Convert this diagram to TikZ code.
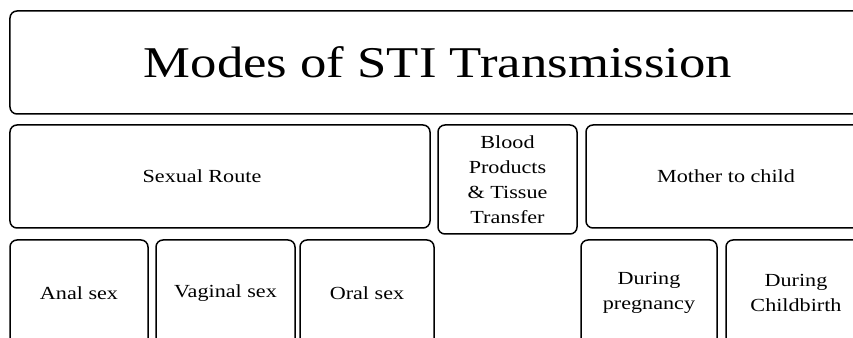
\documentclass[tikz,border=0pt]{standalone}
\usepackage{fontspec}
\setmainfont{Liberation Serif}[FakeStretch=1.2]
\usepackage{tikz}
\usetikzlibrary{shapes,calc}
\tikzstyle{tsText} = [ 
    text=black, 
    font=\fontsize{10.5}{14.2}\selectfont
]
\tikzstyle{tsBox} = [ 
    rectangle,
    rounded corners=0.14cm,
    tsText,
    text centered,
    align=center,
    draw=black,
    line width=0.3mm]
\tikzstyle{tsTitle} = [ 
    tsBox,
    font=\fontsize{25}{30}\selectfont]

\begin{document}
\begin{tikzpicture}

        \useasboundingbox (0,0) rectangle (17.06,6.76);
        \clip (0,0) rectangle (17.06,6.76);

        % top row
        \node[  tsTitle, 
                minimum width=17.12cm,
                minimum height=2.06cm] (modes) at (8.76,5.51) {Modes of STI Transmission};

        % middle row
        \node[  tsBox, 
                minimum width=8.40cm,
                minimum height=2.06cm,
                label={[tsText, name=sexualtext, xshift=-0.36cm]center:Sexual Route}] (sexual) at (4.40,3.23) {};
        \node[  tsBox, 
                minimum width=2.78cm,
                minimum height=2.18cm] (blood) at (10.15,3.17) {Blood\\Products\\\& Tissue\\Transfer};
        \node[  tsBox, 
                minimum width=5.60cm,
                minimum height=2.06cm] (mother) at (14.52,3.23) {Mother to child};

        % bottom row
        \node[tsBox, minimum width=2.76cm, minimum height=2.12cm] (anal) at (1.58,0.90) {Anal sex};
        \node[tsBox, minimum width=2.78cm, minimum height=2.12cm] (vaginal) at (4.51,0.90) {Vaginal sex};
        \node[tsBox, minimum width=2.68cm, minimum height=2.12cm] (oral) at (7.34,0.90) {Oral sex};
        \node[tsBox, minimum width=2.72cm, minimum height=2.12cm] (pregnancy) at (12.98,0.90) {During\\pregnancy};
        \node[tsBox, minimum width=2.80cm, minimum height=2.12cm] (childbirth) at (15.92,0.90) {During\\Childbirth};

\end{tikzpicture}
\end{document}
